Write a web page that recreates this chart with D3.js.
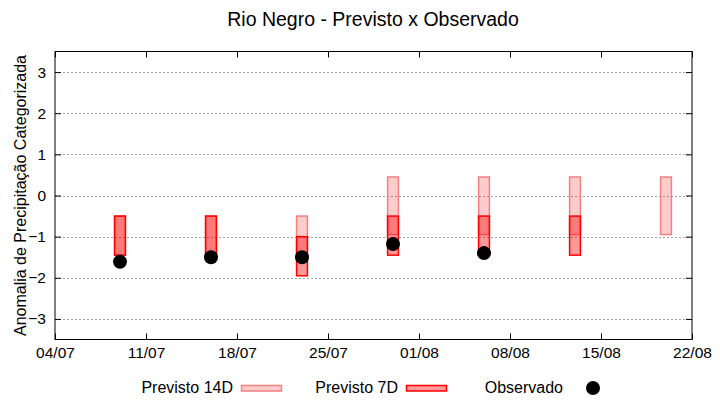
<!DOCTYPE html>
<html>
<head>
<meta charset="utf-8">
<script src="https://cdn.jsdelivr.net/npm/d3@7"></script>
<style>
  body { margin: 0; background: #fff; }
  text { font-family: "Liberation Sans", Arial, sans-serif; fill: #000; }
</style>
</head>
<body>
<svg id="chart" width="720" height="400"></svg>
<script>
var parse = d3.timeParse("%d/%m/%Y");

// forecast dates (center of each bar)
var dates14 = ["09/07/2021", "16/07/2021", "23/07/2021", "30/07/2021", "06/08/2021", "13/08/2021", "20/08/2021"];
var low14 = [-1.45, -1.45, -1.45, -0.95, -0.95, -0.95, -0.95];
var high14 = [-0.5, -0.5, -0.5, 0.45, 0.45, 0.45, 0.45];

var dates7 = ["09/07/2021", "16/07/2021", "23/07/2021", "30/07/2021", "06/08/2021", "13/08/2021"];
var low7 = [-1.45, -1.45, -1.95, -1.45, -1.45, -1.45];
var high7 = [-0.5, -0.5, -1.0, -0.5, -0.5, -0.5];

var datesObs = ["09/07/2021", "16/07/2021", "23/07/2021", "30/07/2021", "06/08/2021"];
var valuesObs = [-1.61, -1.5, -1.5, -1.18, -1.4];

var xTicks = ["04/07/2021", "11/07/2021", "18/07/2021", "25/07/2021", "01/08/2021", "08/08/2021", "15/08/2021", "22/08/2021"];
var yTicks = [-3, -2, -1, 0, 1, 2, 3];

var svg = d3.select("#chart");
var plotLeft = 55, plotRight = 692, plotTop = 51.5, plotBottom = 339.5;
var halfBar = 10 * 3600 * 1000; // 10 hours each side

var x = d3.scaleTime()
  .domain([parse(xTicks[0]), parse(xTicks[xTicks.length - 1])])
  .range([plotLeft, plotRight]);
var y = d3.scaleLinear().domain([-3.5, 3.5]).range([plotBottom, plotTop]);

// title
svg.append("text")
  .attr("x", 373).attr("y", 26)
  .attr("text-anchor", "middle")
  .style("font-size", "19.5px")
  .text("Rio Negro - Previsto x Observado");

// grid
svg.append("g").selectAll("line")
  .data(yTicks)
  .enter().append("line")
    .attr("x1", plotLeft).attr("x2", plotRight)
    .attr("y1", function(d) { return Math.round(y(d)) + 0.5; })
    .attr("y2", function(d) { return Math.round(y(d)) + 0.5; })
    .attr("stroke", "#a0a0a0")
    .attr("stroke-width", 1)
    .attr("stroke-dasharray", "2,2");

// axes: ticks inside, mirrored
var tickLen = 6;
svg.append("g")
  .attr("transform", "translate(0," + plotBottom + ")")
  .call(d3.axisBottom(x).tickValues(xTicks.map(parse)).tickSize(-tickLen).tickPadding(7)
    .tickFormat(d3.timeFormat("%d/%m")))
  .call(function(g) { g.select(".domain").remove(); })
  .selectAll("text").style("font-size", "15.5px");

svg.append("g")
  .attr("transform", "translate(0," + plotTop + ")")
  .call(d3.axisTop(x).tickValues(xTicks.map(parse)).tickSize(-tickLen).tickFormat(""))
  .call(function(g) { g.select(".domain").remove(); });

svg.append("g")
  .attr("transform", "translate(" + plotLeft + ",0)")
  .call(d3.axisLeft(y).tickValues(yTicks).tickSize(-tickLen).tickPadding(9).tickFormat(d3.format("d")))
  .call(function(g) { g.select(".domain").remove(); })
  .selectAll("text").style("font-size", "15.5px");

svg.append("g")
  .attr("transform", "translate(" + plotRight + ",0)")
  .call(d3.axisRight(y).tickValues(yTicks).tickSize(-tickLen).tickFormat(""))
  .call(function(g) { g.select(".domain").remove(); });

svg.selectAll(".tick line").attr("stroke", "#000");
svg.selectAll(".tick text").attr("fill", "#000").style("font-family", "'Liberation Sans', Arial, sans-serif");

// frame
svg.append("rect")
  .attr("x", plotLeft).attr("y", plotTop)
  .attr("width", plotRight - plotLeft).attr("height", plotBottom - plotTop)
  .attr("fill", "none").attr("stroke", "#000").attr("stroke-width", 1);

// y label
svg.append("text")
  .attr("transform", "translate(26," + ((plotTop + plotBottom) / 2) + ") rotate(-90)")
  .attr("text-anchor", "middle")
  .style("font-size", "16px")
  .text("Anomalia de Precipitação Categorizada");

function bars(dates, low, high, fill, stroke) {
  svg.append("g").selectAll("rect")
    .data(dates)
    .enter().append("rect")
      .attr("x", function(d) { return x(new Date(parse(d).getTime() - halfBar)); })
      .attr("width", function(d) { return x(new Date(parse(d).getTime() + halfBar)) - x(new Date(parse(d).getTime() - halfBar)); })
      .attr("y", function(d, i) { return y(high[i]); })
      .attr("height", function(d, i) { return y(low[i]) - y(high[i]); })
      .attr("fill", fill)
      .attr("stroke", stroke)
      .attr("stroke-width", 1.5);
}

bars(dates14, low14, high14, "rgba(255,0,0,0.2)", "#f48080");
bars(dates7, low7, high7, "rgba(255,0,0,0.4)", "#ff0000");

svg.append("g").selectAll("circle")
  .data(datesObs)
  .enter().append("circle")
    .attr("cx", function(d) { return x(parse(d)); })
    .attr("cy", function(d, i) { return y(valuesObs[i]); })
    .attr("r", 7)
    .attr("fill", "#000");

// legend
var legend = svg.append("g");
var legItems = [
  { label: "Previsto 14D", end: 233, fill: "rgba(255,0,0,0.2)", stroke: "#f48080" },
  { label: "Previsto 7D", end: 398, fill: "rgba(255,0,0,0.4)", stroke: "#ff0000" },
  { label: "Observado", end: 563 }
];
legItems.forEach(function(d) {
  legend.append("text")
    .attr("x", d.end).attr("y", 393)
    .attr("text-anchor", "end")
    .style("font-size", "16px")
    .text(d.label);
  if (d.fill) {
    legend.append("rect")
      .attr("x", d.end + 8.5).attr("y", 385.5)
      .attr("width", 40).attr("height", 5.5)
      .attr("fill", d.fill).attr("stroke", d.stroke).attr("stroke-width", 1.5);
  } else {
    legend.append("circle")
      .attr("cx", 593).attr("cy", 388).attr("r", 7).attr("fill", "#000");
  }
});
</script>
</body>
</html>
